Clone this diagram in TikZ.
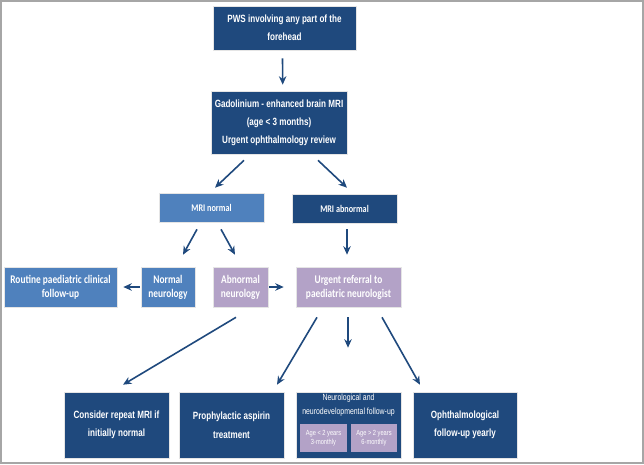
\documentclass[tikz,border=0pt]{standalone}
\usepackage{fontspec}
\newfontfamily\arialfont[FakeStretch=0.77]{Liberation Sans}
\newfontfamily\califont[FakeStretch=0.8]{Carlito}
\usetikzlibrary{arrows.meta}
\definecolor{navy}{HTML}{1F497D}
\definecolor{midblue}{HTML}{4F81BD}
\definecolor{lavender}{HTML}{B3A2C7}
\definecolor{framegray}{HTML}{A6A6A6}

\begin{document}
\begin{tikzpicture}[
        x=1pt, y=-1pt,
        box/.style={
            rectangle,
            draw=white!80!gray,
            line width=0.6pt,
            align=center,
            text=white,
            inner sep=0pt
        },
        darkbox/.style={
            box,
            fill=navy,
            font=\arialfont\bfseries\fontsize{10.5}{18}\selectfont
        },
        bluebox/.style={
            box,
            fill=midblue,
            font=\califont\bfseries\fontsize{11.7}{14}\selectfont
        },
        lilacbox/.style={
            box,
            fill=lavender,
            font=\califont\bfseries\fontsize{11.7}{14}\selectfont
        },
        agebox/.style={
            box,
            fill=lavender,
            draw=none,
            font=\arialfont\fontsize{7.4}{8.5}\selectfont,
            minimum height=28pt
        },
        arrow/.style={
            -{Stealth[length=8.5pt,width=7.5pt]},
            line width=1.6pt,
            draw=navy
        }
    ]

        \useasboundingbox (0,0) rectangle (644,464);
        \draw[framegray, line width=2pt] (1,1) rectangle (643,463);

        \node[darkbox, minimum width=143pt, minimum height=44pt] (pws) at (284.5,28) {PWS involving any part of the\\forehead};
        \node[darkbox, minimum width=136pt, minimum height=63pt] (gad) at (279,122.5) {Gadolinium - enhanced brain MRI\\(age \textless{} 3 months)\\Urgent ophthalmology review};

        \node[bluebox, minimum width=105pt, minimum height=29pt, font=\califont\bfseries\fontsize{10.2}{12}\selectfont] (mrinorm) at (211.5,207.5) {MRI normal};
        \node[darkbox, minimum width=105pt, minimum height=29pt, font=\califont\bfseries\fontsize{10.2}{12}\selectfont] (mriabn) at (344.5,208.5) {MRI abnormal};

        \node[bluebox, minimum width=113pt, minimum height=40pt] (routine) at (60.5,287) {Routine paediatric clinical\\follow-up};
        \node[bluebox, minimum width=54pt, minimum height=40pt] (normneuro) at (168,287) {Normal\\neurology};
        \node[lilacbox, minimum width=55pt, minimum height=40pt] (abnneuro) at (240.5,287) {Abnormal\\neurology};
        \node[lilacbox, minimum width=105pt, minimum height=40pt] (referral) at (348.5,287) {Urgent referral to\\paediatric neurologist};

        \node[darkbox, minimum width=105pt, minimum height=66pt, font=\arialfont\bfseries\fontsize{10.5}{18.5}\selectfont] (repeat) at (116.5,425) {Consider repeat MRI if\\initially normal};
        \node[darkbox, minimum width=105pt, minimum height=66pt, font=\arialfont\bfseries\fontsize{10.5}{18.5}\selectfont] (aspirin) at (231.5,425) {Prophylactic aspirin\\treatment};
        \node[darkbox, minimum width=105pt, minimum height=66pt] (followup) at (348.5,425) {};
        \node[align=center, text=white, inner sep=0pt, font=\arialfont\fontsize{9}{14}\selectfont] (followtxt) at (348.5,405) {Neurological and\\neurodevelopmental follow-up};
        \node[agebox, minimum width=47pt] (young) at (323.5,438) {Age \textless{} 2 years\\3-monthly};
        \node[agebox, minimum width=46pt] (older) at (374,438) {Age \textgreater{} 2 years\\6-monthly};
        \node[darkbox, minimum width=104pt, minimum height=66pt, font=\arialfont\bfseries\fontsize{10.5}{18.5}\selectfont] (ophthal) at (465,425) {Ophthalmological\\follow-up yearly};

        \draw[arrow] ([shift={(-2,8)}]pws.south) -- ([shift={(3.7,-6)}]gad.north);
        \draw[arrow] ([shift={(-35,6)}]gad.south) -- ([shift={(3.5,-5)}]mrinorm.north);
        \draw[arrow] ([shift={(39,6)}]gad.south) -- ([shift={(2.5,-6)}]mriabn.north);
        \draw[arrow] ([shift={(-14.5,7)}]mrinorm.south) -- ([shift={(15,-12)}]normneuro.north);
        \draw[arrow] ([shift={(9.5,7)}]mrinorm.south) -- ([shift={(-5.5,-12)}]abnneuro.north);
        \draw[arrow] ([shift={(2.5,6)}]mriabn.south) -- ([shift={(-1.5,-12)}]referral.north);
        \draw[arrow] ([shift={(-1,0)}]normneuro.west) -- ([shift={(6,0)}]routine.east);
        \draw[arrow] ([shift={(1,0)}]abnneuro.east) -- ([shift={(-12,0)}]referral.west);
        \draw[arrow] ([shift={(-4.5,10)}]abnneuro.south) -- ([shift={(6.5,-7)}]repeat.north);
        \draw[arrow] ([shift={(-31.5,10)}]referral.south) -- ([shift={(45.5,-7)}]aspirin.north);
        \draw[arrow] ([shift={(-0.5,10)}]referral.south) -- ([shift={(-0.5,-44)}]followup.north);
        \draw[arrow] ([shift={(33.5,10)}]referral.south) -- ([shift={(-45,-7)}]ophthal.north);

    \end{tikzpicture}
\end{document}
